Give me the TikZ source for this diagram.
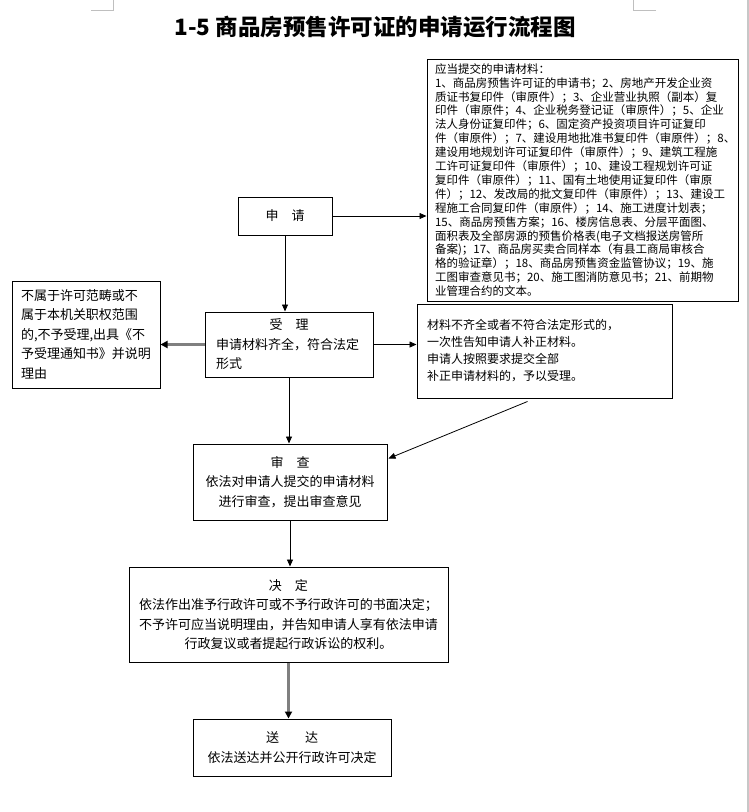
\documentclass[tikz,border=0pt]{standalone}
\usepackage{fontspec}
\setmainfont{Noto Sans CJK SC}
\usepackage{tikz}
\usetikzlibrary{calc}
\usetikzlibrary{arrows.meta}
\tikzstyle{box}=[solid,rectangle,black,draw,line width=1pt,inner sep=0pt,font=\fontsize{13}{19.5}\selectfont]
\tikzstyle{arrow} = [solid,black,draw,line width=0.8pt,-{Triangle[length=7pt,width=6pt]}]
\tikzstyle{grayarrow} = [solid,gray,draw,line width=2.2pt,-{Triangle[length=7pt,width=7pt,color=black]}]
\tikzstyle{pagemark} = [solid,black!25,draw,line width=0.8pt]

\begin{document}
\begin{tikzpicture}[x=1pt,y=-1pt]
	\useasboundingbox (0,0) rectangle (749,812);
	% page marks
	\path[pagemark] (91,10) -- (113,10) -- (113,0);
	\path[pagemark] (656,10) -- (633,10) -- (633,0);
	\path[solid,black!22,draw,line width=1.6pt] (748,0) -- (748,812);
	% title
	\node (title) at (375,27) {\fontsize{22.5}{23}\selectfont\bfseries 1-5 商品房预售许可证的申请运行流程图};
	% boxes
	\node[box,minimum width=94pt,minimum height=38pt] (shenqing) at (285,216) {申\hspace{1em}请};
	\node[box,minimum width=311pt,minimum height=242pt,text width=295pt,align=left,font=\fontsize{11.5}{13.9}\selectfont] (cailiao) at (582.5,180) {应当提交的申请材料：\\
1、商品房预售许可证的申请书；2、房地产开发企业资\\
质证书复印件（审原件）；3、企业营业执照（副本）复\\
印件（审原件；4、企业税务登记证（审原件）；5、企业\\
法人身份证复印件；6、固定资产投资项目许可证复印\\
件（审原件）；7、建设用地批准书复印件（审原件）；8、\\
建设用地规划许可证复印件（审原件）；9、建筑工程施\\
工许可证复印件（审原件）；10、建设工程规划许可证\\
复印件（审原件）；11、国有土地使用证复印件（审原\\
件）；12、发改局的批文复印件（审原件）；13、建设工\\
程施工合同复印件（审原件）；14、施工进度计划表；\\
15、商品房预售方案；16、楼房信息表、分层平面图、\\
面积表及全部房源的预售价格表(电子文档报送房管所\\
备案)；17、商品房买卖合同样本（有县工商局审核合\\
格的验证章）；18、商品房预售资金监管协议；19、施\\
工图审查意见书；20、施工图消防意见书；21、前期物\\
业管理合约的文本。};
	\node[box,minimum width=168pt,minimum height=65pt,text width=146pt,align=left] (shouli) at (289,344.5) {\makebox[\linewidth]{受\hspace{1em}理}\\申请材料齐全，符合法定\\形式};
	\node[box,minimum width=148pt,minimum height=107pt,text width=130pt,align=left] (bushou) at (86,334.5) {不属于许可范畴或不\\属于本机关职权范围\\的,不予受理,出具《不\\予受理通知书》并说明\\理由};
	\node[box,minimum width=255pt,minimum height=94pt,text width=235pt,align=left,font=\fontsize{12}{17}\selectfont] (buzheng) at (544.5,351) {材料不齐全或者不符合法定形式的，\\一次性告知申请人补正材料。\\申请人按照要求提交全部\\补正申请材料的，予以受理。};
	\node[box,minimum width=194pt,minimum height=76pt,align=center] (shencha) at (290,482) {审\hspace{1em}查\\依法对申请人提交的申请材料\\进行审查，提出审查意见};
	\node[box,minimum width=319pt,minimum height=95pt,align=center] (jueding) at (288.5,614.5) {决\hspace{1em}定\\依法作出准予行政许可或不予行政许可的书面决定；\\不予许可应当说明理由，并告知申请人享有依法申请\\行政复议或者提起行政诉讼的权利。};
	\node[box,minimum width=198pt,minimum height=57pt,align=center] (songda) at (292,747.5) {送\hspace{2em}达\\依法送达并公开行政许可决定};
	% connectors
	\path[arrow] (shenqing.east) -- (shenqing.east -| cailiao.west);
	\path[arrow] (shenqing.south) -- (shenqing.south |- shouli.north);
	\path[grayarrow] (shouli.west) -- (shouli.west -| bushou.east);
	\path[arrow] (shouli.east) -- (shouli.east -| buzheng.west);
	\path[arrow] (shouli.south) -- (shouli.south |- shencha.north);
	\coordinate (bz) at ($(buzheng.south)+(-17,3)$);
	\path[arrow] (bz) -- ($(shencha.north east)+(1,15)$);
	\path[arrow] (shencha.south) -- (shencha.south |- jueding.north);
	\path[grayarrow] (jueding.south) -- (jueding.south |- songda.north);
\end{tikzpicture}
\end{document}
